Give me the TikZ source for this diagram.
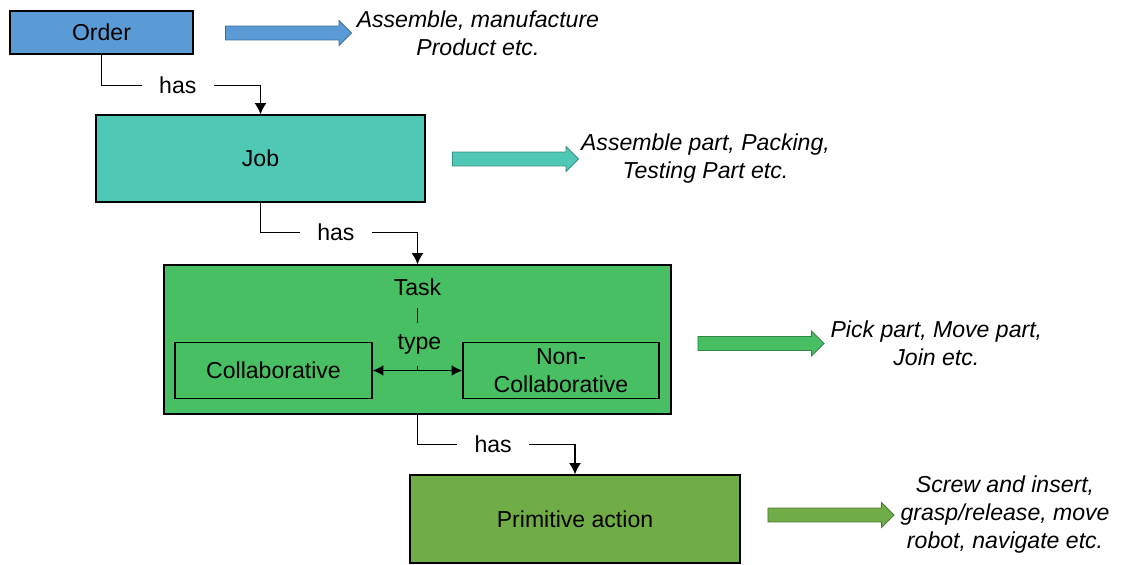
\documentclass[tikz,border=0pt]{standalone}
\usepackage{fontspec}
\setmainfont{Liberation Sans}
\usetikzlibrary{positioning, arrows.meta, shapes.arrows, calc}

\definecolor{ordercol}{HTML}{5B9BD5}
\definecolor{jobcol}{HTML}{4FC9B5}
\definecolor{taskcol}{HTML}{47BF62}
\definecolor{primcol}{HTML}{70AD47}

\tikzset{
  box/.style={draw, line width=1pt, inner sep=0pt},
  has/.style={fill=white, inner xsep=13pt, inner ysep=2pt},
  conn/.style={line width=1pt, -{Latex[length=8.5pt,width=9pt]}},
  bigarrow/.style={single arrow, draw, line width=0.6pt, minimum height=94.5pt,
    text height=0pt, text depth=0pt, inner xsep=0pt, inner ysep=4.9pt,
    single arrow head extend=4.1pt},
  note/.style={align=center, font=\fontsize{17.3}{21}\selectfont\itshape}
}

\begin{document}
\begin{tikzpicture}[x=0.75pt, y=-0.75pt, font=\fontsize{17.3}{21}\selectfont]
  \useasboundingbox (0,0) rectangle (1123,564);

  % levels
  \node[box, fill=ordercol, minimum width=137.25pt, minimum height=32.25pt] (order) at (101.5,32.5) {Order};
  \node[box, fill=jobcol, minimum width=246.75pt, minimum height=65.25pt] (job) at (260.5,158.5) {Job};
  \node[box, fill=taskcol, minimum width=380.25pt, minimum height=111.75pt] (task) at (417.5,339.5) {};
  \node[box, fill=primcol, minimum width=247.5pt, minimum height=66pt] (prim) at (575,519) {Primitive action};

  % inside the task
  \node[inner ysep=9.5pt] (tasktxt) at (417.5,287) {Task};
  \node[box, fill=taskcol, minimum width=147.75pt, minimum height=42pt] (collab) at (273.5,370.5) {Collaborative};
  \node[box, fill=taskcol, minimum width=147pt, minimum height=42pt, align=center] (noncollab) at (561,370.5) {Non-\\Collaborative};
  \coordinate (mid) at ($(collab.east)!0.5!(noncollab.west)$);
  \draw[line width=1pt, {Latex[length=8pt,width=8pt]}-{Latex[length=8pt,width=8pt]}] (collab) -- (noncollab);
  \draw[line width=0.8pt] (tasktxt.south) -- node[fill=taskcol, inner ysep=9pt, pos=0.58, xshift=1.5pt] (typetxt) {type} (mid);

  % examples
  \node[bigarrow, fill=ordercol, draw=ordercol!70!black] (orderarr) at (285,33) {};
  \node[note, right=0pt of orderarr] (ordertxt) {Assemble, manufacture\\Product etc.};
  \node[bigarrow, fill=jobcol, draw=jobcol!70!black] (jobarr) at (512,159) {};
  \node[note, right=-2pt of jobarr] (jobtxt) {Assemble part, Packing,\\Testing Part etc.};
  \node[bigarrow, fill=taskcol, draw=taskcol!70!black] (taskarr) at (757.5,343.5) {};
  \node[note, right=1pt of taskarr] (tasknote) {Pick part, Move part,\\Join etc.};
  \node[bigarrow, fill=primcol, draw=primcol!70!black] (primarr) at (827.5,515) {};
  \node[note, right=1pt of primarr] (primtxt) {Screw and insert,\\grasp/release, move\\robot, navigate etc.};

  % has links
  \draw[conn] (order.south) -- ++(0,31) -| node[has, pos=0.24] (has1) {has} (job.north);
  \draw[conn] (job.south) -- ++(0,30) -| node[has, pos=0.24] (has2) {has} (task.north);
  \draw[conn] (task.south) -- ++(0,30) -| node[has, pos=0.24] (has3) {has} (prim.north);
\end{tikzpicture}
\end{document}
